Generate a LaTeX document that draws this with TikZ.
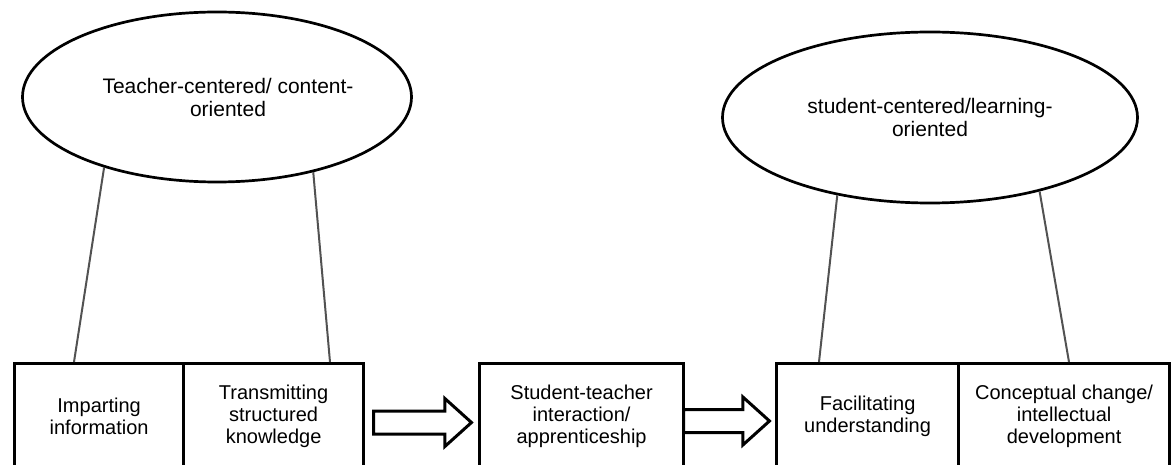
\documentclass[tikz,border=0pt]{standalone}
\usepackage{fontspec}
\setmainfont{Liberation Sans}
\usetikzlibrary{shapes.geometric,shapes.arrows,calc}
\begin{document}
\begin{tikzpicture}[x=1pt,y=-1pt,
  oval/.style={ellipse,draw,line width=2.7pt,inner sep=0pt,
    font=\fontsize{21}{23}\selectfont,align=center},
  cell/.style={rectangle,draw,line width=3.2pt,inner sep=0pt,
    minimum height=105pt,anchor=north west,
    font=\fontsize{20}{22}\selectfont,align=center},
  blockarrow/.style={single arrow,draw,line width=3pt,inner xsep=0pt,
    inner ysep=10pt,minimum width=45pt,single arrow head extend=12.5pt,
    single arrow tip angle=84,anchor=tail},
  link/.style={draw=black!68,line width=2pt}]
\useasboundingbox (0,0) rectangle (1171,465);

\node[oval,minimum width=389pt,minimum height=170pt] (e1) at (217,97)
  {\hspace*{22pt}Teacher-centered/ content-\\ \hspace*{22pt}oriented};
\node[oval,minimum width=415pt,minimum height=171pt] (e2) at (930,117.5)
  {student-centered/learning-\\ oriented};

\node[cell,minimum width=169pt] (b1) at (13,362) {Imparting\\ information};
\node[cell,minimum width=180pt] (b2) at (182,362) {Transmitting\\ structured\\ knowledge};
\node[cell,minimum width=204pt] (b3) at (478,362) {Student-teacher\\ interaction/\\ apprenticeship};
\node[cell,minimum width=182pt] (b4) at (775,362) {Facilitating\\ understanding};
\node[cell,minimum width=211pt] (b5) at (957,362) {Conceptual change/\\ intellectual\\ development};

\node[blockarrow,minimum height=98pt] (a1) at (372,422.5) {};
\node[blockarrow,minimum height=86pt] (a2) at (682,421) {};

\draw[link] (e1.212.8) -- ([xshift=61pt]b1.north west);
\draw[link] (e1.322.9) -- ([xshift=148pt]b2.north west);
\draw[link] (e2.220.7) -- ([xshift=44pt]b4.north west);
\draw[link] (e2.326.1) -- ([xshift=112pt]b5.north west);
\end{tikzpicture}
\end{document}
